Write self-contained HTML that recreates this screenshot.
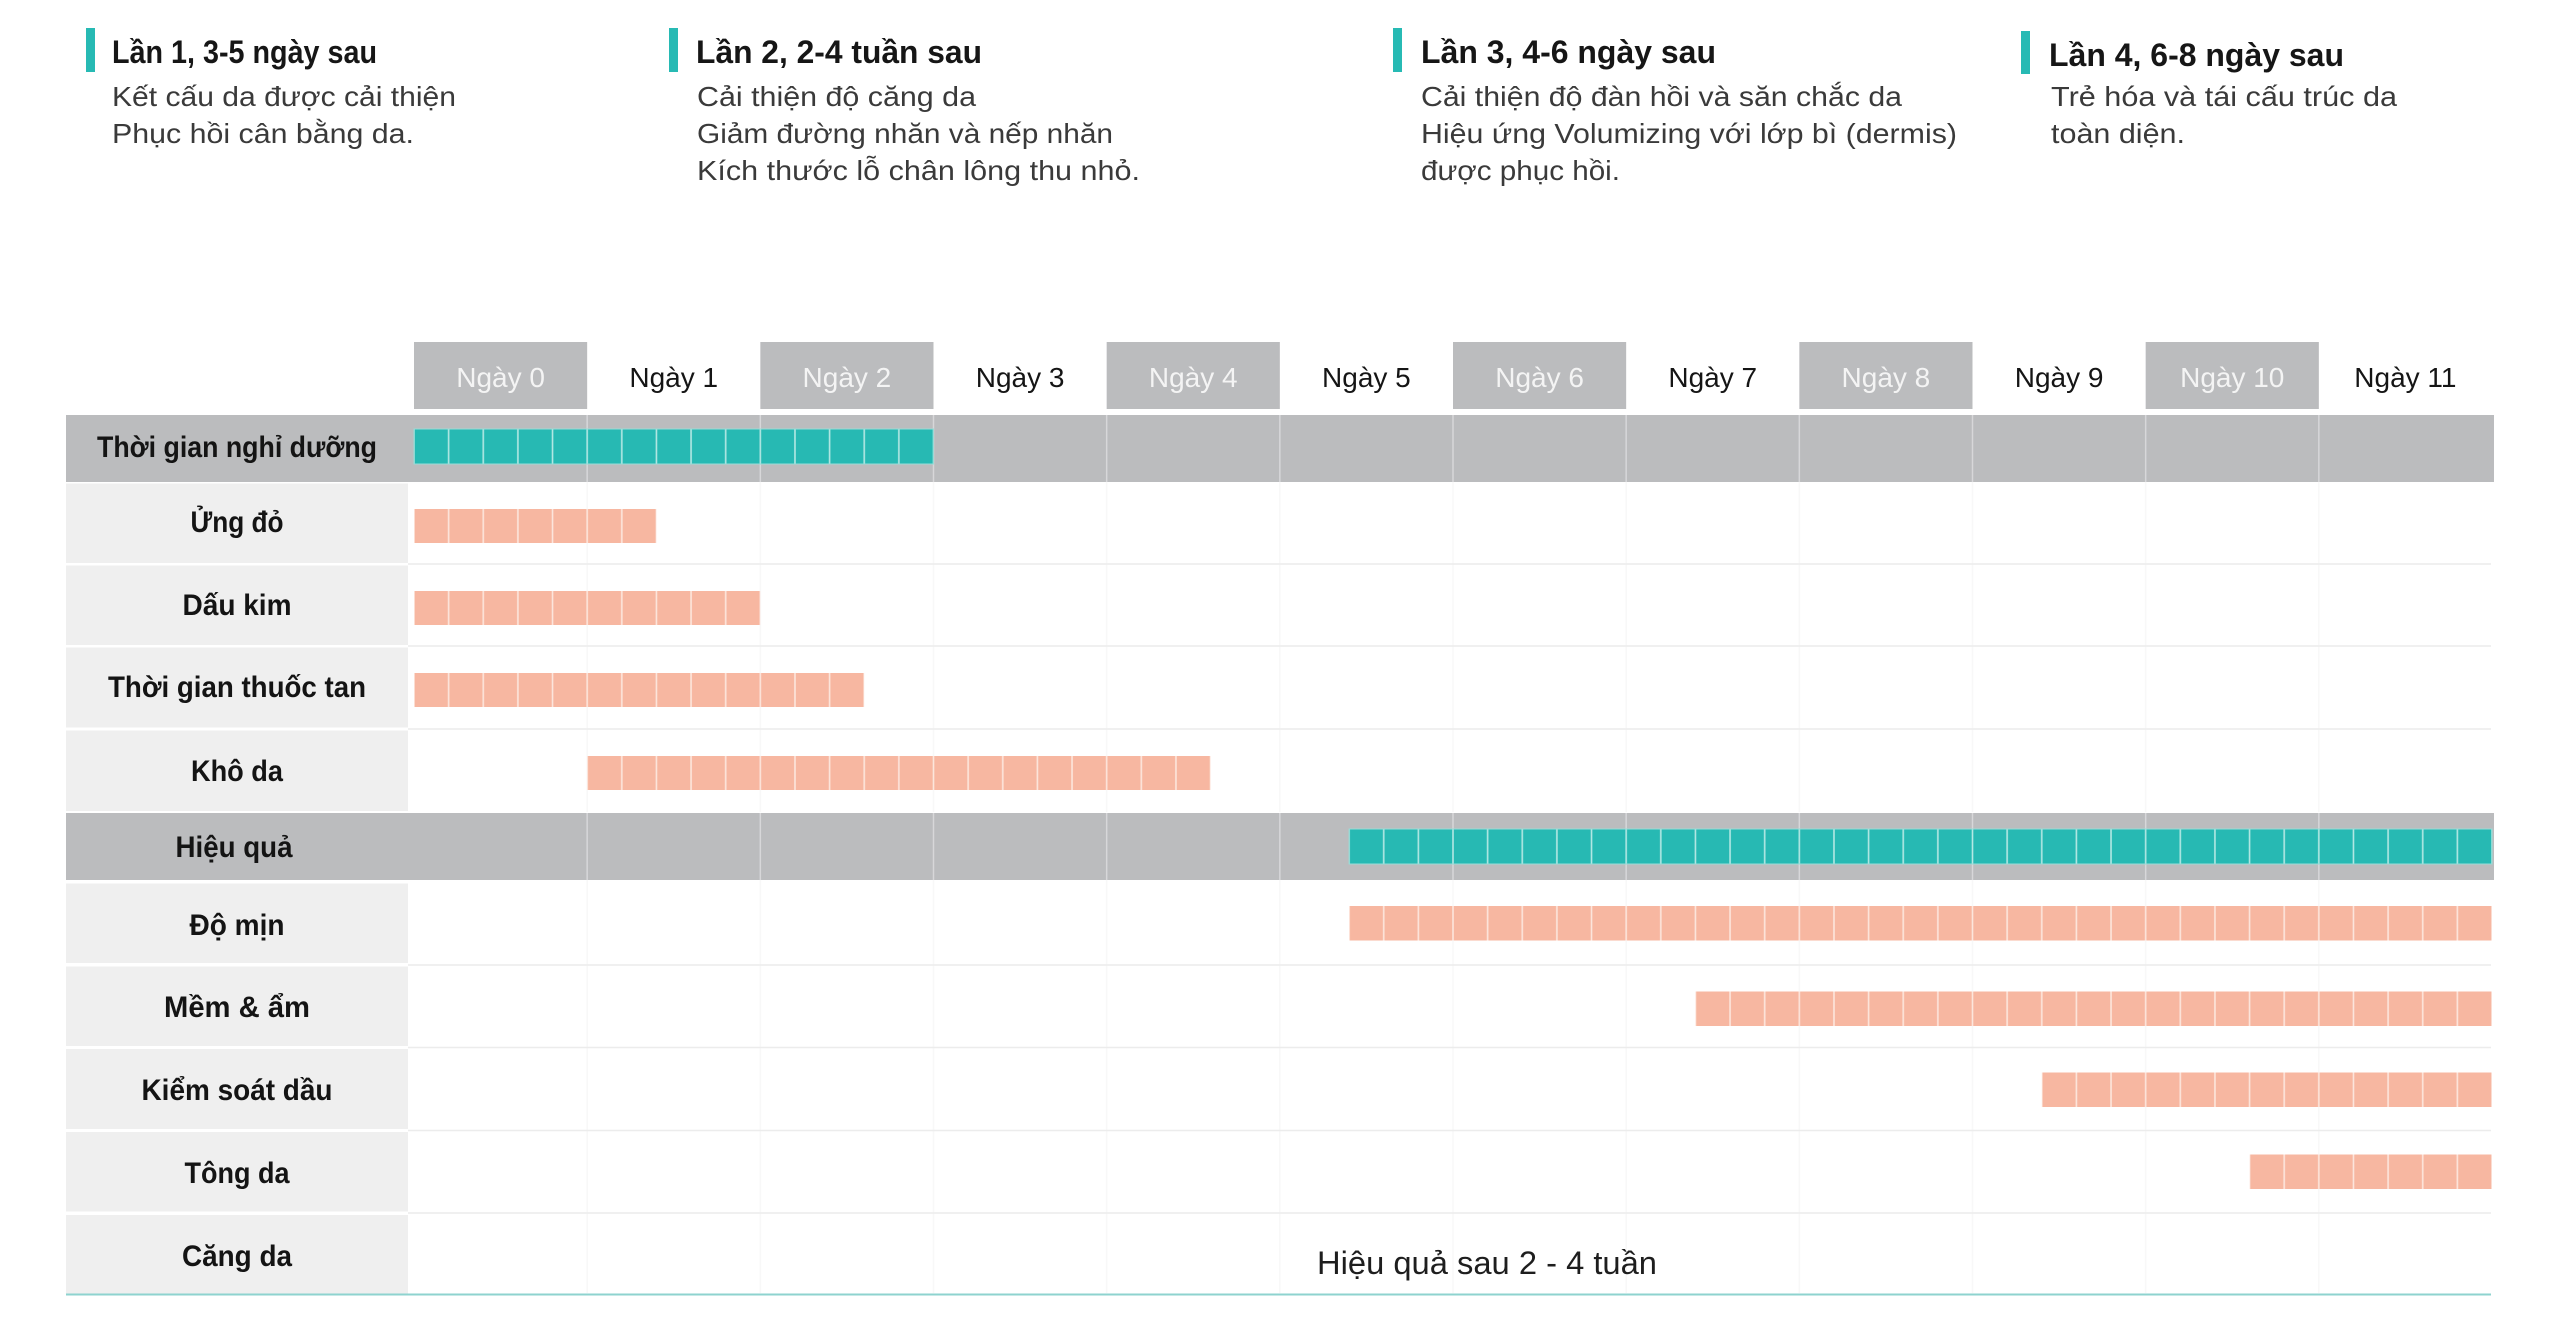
<!DOCTYPE html>
<html>
<head>
<meta charset="utf-8">
<style>
html,body{margin:0;padding:0;background:#fff;width:2560px;height:1340px;overflow:hidden}
svg{display:block}
text{font-family:"Liberation Sans","DejaVu Sans",sans-serif}
.t{font-weight:bold;font-size:32px;fill:#161616}
.d{font-size:28px;fill:#3a3a3a}
.lb{font-weight:bold;font-size:30px;fill:#141414}
.dh{font-size:28px}
</style>
</head>
<body>
<svg width="2560" height="1340" viewBox="0 0 2560 1340" xmlns="http://www.w3.org/2000/svg">
<defs>
  <pattern id="pk" x="414" y="0" width="34.6333" height="1340" patternUnits="userSpaceOnUse">
    <rect x="0" y="0" width="34.6333" height="1340" fill="#f7b7a1"/>
    <rect x="0" y="0" width="0.8" height="1340" fill="#fde6dd"/>
    <rect x="33.83" y="0" width="0.8" height="1340" fill="#fde6dd"/>
  </pattern>
  <pattern id="tl" x="414" y="0" width="34.6333" height="1340" patternUnits="userSpaceOnUse">
    <rect x="0" y="0" width="34.6333" height="1340" fill="#27b9b3"/>
    <rect x="0" y="0" width="0.8" height="1340" fill="#b4e8e4"/>
    <rect x="33.83" y="0" width="0.8" height="1340" fill="#b4e8e4"/>
  </pattern>
</defs>

<!-- Header blocks -->
<rect x="86" y="28" width="9" height="44" fill="#27bab4"/>
<text class="t" x="112" y="63" textLength="265" lengthAdjust="spacingAndGlyphs">Lần 1, 3-5 ngày sau</text>
<text class="d" x="112" y="106" textLength="344" lengthAdjust="spacingAndGlyphs">Kết cấu da được cải thiện</text>
<text class="d" x="112" y="143" textLength="302" lengthAdjust="spacingAndGlyphs">Phục hồi cân bằng da.</text>

<rect x="669" y="28" width="9" height="44" fill="#27bab4"/>
<text class="t" x="696" y="63" textLength="286" lengthAdjust="spacingAndGlyphs">Lần 2, 2-4 tuần sau</text>
<text class="d" x="697" y="106" textLength="279" lengthAdjust="spacingAndGlyphs">Cải thiện độ căng da</text>
<text class="d" x="697" y="143" textLength="416" lengthAdjust="spacingAndGlyphs">Giảm đường nhăn và nếp nhăn</text>
<text class="d" x="697" y="180" textLength="443" lengthAdjust="spacingAndGlyphs">Kích thước lỗ chân lông thu nhỏ.</text>

<rect x="1393" y="28" width="9" height="44" fill="#27bab4"/>
<text class="t" x="1421" y="63" textLength="295" lengthAdjust="spacingAndGlyphs">Lần 3, 4-6 ngày sau</text>
<text class="d" x="1421" y="106" textLength="481" lengthAdjust="spacingAndGlyphs">Cải thiện độ đàn hồi và săn chắc da</text>
<text class="d" x="1421" y="143" textLength="536" lengthAdjust="spacingAndGlyphs">Hiệu ứng Volumizing với lớp bì (dermis)</text>
<text class="d" x="1421" y="180" textLength="199" lengthAdjust="spacingAndGlyphs">được phục hồi.</text>

<rect x="2021" y="31" width="9" height="43" fill="#27bab4"/>
<text class="t" x="2049" y="66" textLength="295" lengthAdjust="spacingAndGlyphs">Lần 4, 6-8 ngày sau</text>
<text class="d" x="2051" y="106" textLength="346" lengthAdjust="spacingAndGlyphs">Trẻ hóa và tái cấu trúc da</text>
<text class="d" x="2051" y="143" textLength="134" lengthAdjust="spacingAndGlyphs">toàn diện.</text>

<!-- Day header -->
<g fill="#bbbcbe">
  <rect x="414" y="342" width="173.17" height="67"/>
  <rect x="760.33" y="342" width="173.17" height="67"/>
  <rect x="1106.67" y="342" width="173.17" height="67"/>
  <rect x="1453" y="342" width="173.17" height="67"/>
  <rect x="1799.33" y="342" width="173.17" height="67"/>
  <rect x="2145.67" y="342" width="173.17" height="67"/>
</g>
<g class="dh" text-anchor="middle">
  <text x="500.6" y="387" fill="#f4f4f4">Ngày 0</text>
  <text x="673.75" y="387" fill="#151515">Ngày 1</text>
  <text x="846.9" y="387" fill="#f4f4f4">Ngày 2</text>
  <text x="1020.1" y="387" fill="#151515">Ngày 3</text>
  <text x="1193.25" y="387" fill="#f4f4f4">Ngày 4</text>
  <text x="1366.4" y="387" fill="#151515">Ngày 5</text>
  <text x="1539.6" y="387" fill="#f4f4f4">Ngày 6</text>
  <text x="1712.75" y="387" fill="#151515">Ngày 7</text>
  <text x="1885.9" y="387" fill="#f4f4f4">Ngày 8</text>
  <text x="2059.1" y="387" fill="#151515">Ngày 9</text>
  <text x="2232.25" y="387" fill="#f4f4f4">Ngày 10</text>
  <text x="2405.4" y="387" fill="#151515">Ngày 11</text>
</g>

<!-- faint column lines in white area -->
<g stroke="#f8f8f8" stroke-width="1.5">
  <line x1="587.17" y1="482" x2="587.17" y2="812"/><line x1="760.33" y1="482" x2="760.33" y2="812"/>
  <line x1="933.5" y1="482" x2="933.5" y2="812"/><line x1="1106.67" y1="482" x2="1106.67" y2="812"/>
  <line x1="1279.83" y1="482" x2="1279.83" y2="812"/><line x1="1453" y1="482" x2="1453" y2="812"/>
  <line x1="1626.17" y1="482" x2="1626.17" y2="812"/><line x1="1799.33" y1="482" x2="1799.33" y2="812"/>
  <line x1="1972.5" y1="482" x2="1972.5" y2="812"/><line x1="2145.67" y1="482" x2="2145.67" y2="812"/>
  <line x1="2318.83" y1="482" x2="2318.83" y2="812"/>
  <line x1="587.17" y1="880" x2="587.17" y2="1293"/><line x1="760.33" y1="880" x2="760.33" y2="1293"/>
  <line x1="933.5" y1="880" x2="933.5" y2="1293"/><line x1="1106.67" y1="880" x2="1106.67" y2="1293"/>
  <line x1="1279.83" y1="880" x2="1279.83" y2="1293"/><line x1="1453" y1="880" x2="1453" y2="1293"/>
  <line x1="1626.17" y1="880" x2="1626.17" y2="1293"/><line x1="1799.33" y1="880" x2="1799.33" y2="1293"/>
  <line x1="1972.5" y1="880" x2="1972.5" y2="1293"/><line x1="2145.67" y1="880" x2="2145.67" y2="1293"/>
  <line x1="2318.83" y1="880" x2="2318.83" y2="1293"/>
</g>
<!-- faint row lines -->
<g stroke="#ececec" stroke-width="1.5">
  <line x1="408" y1="564" x2="2491" y2="564"/>
  <line x1="408" y1="646" x2="2491" y2="646"/>
  <line x1="408" y1="729" x2="2491" y2="729"/>
  <line x1="408" y1="965" x2="2491" y2="965"/>
  <line x1="408" y1="1047.5" x2="2491" y2="1047.5"/>
  <line x1="408" y1="1130.5" x2="2491" y2="1130.5"/>
  <line x1="408" y1="1213" x2="2491" y2="1213"/>
</g>

<!-- gray rows -->
<rect x="66" y="415" width="2428" height="67" fill="#bbbcbe"/>
<rect x="66" y="813" width="2428" height="67" fill="#bbbcbe"/>
<g stroke="#d7d7d9" stroke-width="1.5">
  <line x1="587.17" y1="415" x2="587.17" y2="482"/><line x1="760.33" y1="415" x2="760.33" y2="482"/>
  <line x1="933.5" y1="415" x2="933.5" y2="482"/><line x1="1106.67" y1="415" x2="1106.67" y2="482"/>
  <line x1="1279.83" y1="415" x2="1279.83" y2="482"/><line x1="1453" y1="415" x2="1453" y2="482"/>
  <line x1="1626.17" y1="415" x2="1626.17" y2="482"/><line x1="1799.33" y1="415" x2="1799.33" y2="482"/>
  <line x1="1972.5" y1="415" x2="1972.5" y2="482"/><line x1="2145.67" y1="415" x2="2145.67" y2="482"/>
  <line x1="2318.83" y1="415" x2="2318.83" y2="482"/>
  <line x1="587.17" y1="813" x2="587.17" y2="880"/><line x1="760.33" y1="813" x2="760.33" y2="880"/>
  <line x1="933.5" y1="813" x2="933.5" y2="880"/><line x1="1106.67" y1="813" x2="1106.67" y2="880"/>
  <line x1="1279.83" y1="813" x2="1279.83" y2="880"/><line x1="1453" y1="813" x2="1453" y2="880"/>
  <line x1="1626.17" y1="813" x2="1626.17" y2="880"/><line x1="1799.33" y1="813" x2="1799.33" y2="880"/>
  <line x1="1972.5" y1="813" x2="1972.5" y2="880"/><line x1="2145.67" y1="813" x2="2145.67" y2="880"/>
  <line x1="2318.83" y1="813" x2="2318.83" y2="880"/>
</g>

<!-- label cells -->
<g fill="#efefef">
  <rect x="66" y="483.5" width="342" height="79.5"/>
  <rect x="66" y="565.5" width="342" height="79.5"/>
  <rect x="66" y="647.5" width="342" height="80"/>
  <rect x="66" y="730.5" width="342" height="80.5"/>
  <rect x="66" y="883.5" width="342" height="79.5"/>
  <rect x="66" y="966.5" width="342" height="79.5"/>
  <rect x="66" y="1049" width="342" height="80"/>
  <rect x="66" y="1132" width="342" height="79.5"/>
  <rect x="66" y="1215" width="342" height="78.5"/>
</g>

<!-- labels -->
<g class="lb" text-anchor="middle">
  <text x="237" y="457" textLength="280" lengthAdjust="spacingAndGlyphs">Thời gian nghỉ dưỡng</text>
  <text x="237" y="532" textLength="93" lengthAdjust="spacingAndGlyphs">Ửng đỏ</text>
  <text x="237" y="615" textLength="109" lengthAdjust="spacingAndGlyphs">Dấu kim</text>
  <text x="237" y="697" textLength="258" lengthAdjust="spacingAndGlyphs">Thời gian thuốc tan</text>
  <text x="237" y="781" textLength="92" lengthAdjust="spacingAndGlyphs">Khô da</text>
  <text x="234" y="857" textLength="117" lengthAdjust="spacingAndGlyphs">Hiệu quả</text>
  <text x="237" y="935" textLength="95" lengthAdjust="spacingAndGlyphs">Độ mịn</text>
  <text x="237" y="1017" textLength="146" lengthAdjust="spacingAndGlyphs">Mềm &amp; ẩm</text>
  <text x="237" y="1100" textLength="191" lengthAdjust="spacingAndGlyphs">Kiểm soát dầu</text>
  <text x="237" y="1183" textLength="105" lengthAdjust="spacingAndGlyphs">Tông da</text>
  <text x="237" y="1266" textLength="110" lengthAdjust="spacingAndGlyphs">Căng da</text>
</g>

<!-- bars -->
<rect x="414" y="429" width="519.5" height="35" fill="url(#tl)" stroke="#9adcd7" stroke-width="1"/>
<rect x="414" y="509" width="242.4" height="34" fill="url(#pk)"/>
<rect x="414" y="591" width="346.3" height="34" fill="url(#pk)"/>
<rect x="414" y="673" width="450.2" height="34" fill="url(#pk)"/>
<rect x="587.17" y="756" width="623.4" height="34" fill="url(#pk)"/>
<rect x="1349.1" y="829" width="1142.9" height="35" fill="url(#tl)" stroke="#9adcd7" stroke-width="1"/>
<rect x="1349.1" y="906" width="1142.9" height="34.5" fill="url(#pk)"/>
<rect x="1695.4" y="991.5" width="796.6" height="34.5" fill="url(#pk)"/>
<rect x="2041.8" y="1072.5" width="450.2" height="34.5" fill="url(#pk)"/>
<rect x="2249.6" y="1154.5" width="242.4" height="34.5" fill="url(#pk)"/>

<!-- footer text -->
<text x="1317" y="1274" font-size="32" fill="#1e1e1e" textLength="340" lengthAdjust="spacingAndGlyphs">Hiệu quả sau 2 - 4 tuần</text>

<!-- bottom teal line -->
<line x1="66" y1="1294.5" x2="2491" y2="1294.5" stroke="#8ed3cf" stroke-width="2"/>
</svg>
</body>
</html>
